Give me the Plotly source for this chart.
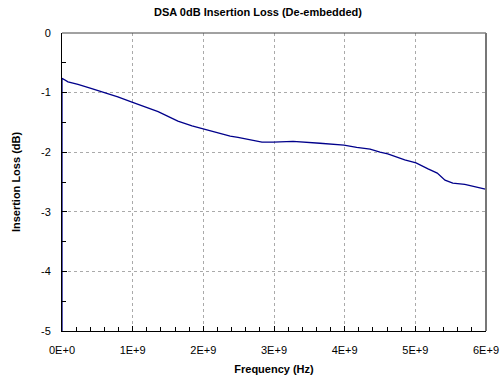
import plotly.graph_objects as go

freq_ghz = [0.0, 0.0, 0.085, 0.226, 0.41, 0.61, 0.79, 0.99, 1.17, 1.36, 1.50, 1.64, 1.84,
            2.00, 2.16, 2.31, 2.38, 2.49, 2.69, 2.83, 2.99, 3.27, 3.65, 3.99, 4.17,
            4.36, 4.50, 4.61, 4.85, 5.01, 5.18, 5.31, 5.42, 5.53, 5.70, 5.84, 5.99]
loss_db = [-5.0, -0.76, -0.82, -0.86, -0.93, -1.00, -1.07, -1.16, -1.24, -1.32, -1.40, -1.48, -1.56,
           -1.61, -1.66, -1.70, -1.73, -1.75, -1.80, -1.83, -1.83, -1.82, -1.85, -1.88, -1.92,
           -1.95, -2.00, -2.03, -2.13, -2.18, -2.28, -2.35, -2.47, -2.52, -2.54, -2.58, -2.62]

x_tickvals = [0, 1e9, 2e9, 3e9, 4e9, 5e9, 6e9]
x_ticktext = ["0E+0", "1E+9", "2E+9", "3E+9", "4E+9", "5E+9", "6E+9"]
y_tickvals = [0, -1, -2, -3, -4, -5]
y_ticktext = ["0", "-1", "-2", "-3", "-4", "-5"]

freq_hz = [f * 1e9 for f in freq_ghz]

FONT = "Arial, Liberation Sans, sans-serif"

fig = go.Figure()
fig.add_trace(go.Scatter(x=freq_hz, y=loss_db, mode="lines",
                         line=dict(color="#00008B", width=1.3),
                         showlegend=False, cliponaxis=True))

fig.update_layout(
    width=501, height=383,
    margin=dict(l=62, r=15, t=33, b=52),
    paper_bgcolor="white", plot_bgcolor="white",
    font=dict(family=FONT, size=11, color="black"),
    title=dict(text="<b>DSA 0dB Insertion Loss (De-embedded)</b>",
               x=0.515, xref="container", xanchor="center",
               y=0.968, yref="container", yanchor="middle",
               font=dict(family=FONT, size=11, color="black")),
)

fig.update_xaxes(
    range=[0, 6e9], tickvals=x_tickvals, ticktext=x_ticktext,
    showgrid=True, gridcolor="#aaaaaa", griddash="dot", gridwidth=1,
    showline=True, linecolor="black", linewidth=1,
    ticks="inside", ticklen=5, tickcolor="black",
    minor=dict(dtick=2e8, ticks="inside", ticklen=4, tickcolor="black", showgrid=False),
    zeroline=False, ticklabelstandoff=9, automargin=False,
    title=dict(text="<b>Frequency (Hz)</b>", font=dict(family=FONT, size=11), standoff=10),
    tickfont=dict(family=FONT, size=11),
)
fig.update_yaxes(
    range=[-5, 0], tickvals=y_tickvals, ticktext=y_ticktext,
    showgrid=True, gridcolor="#aaaaaa", griddash="dot", gridwidth=1,
    showline=True, linecolor="black", linewidth=1,
    ticks="inside", ticklen=5, tickcolor="black",
    minor=dict(dtick=0.5, ticks="inside", ticklen=4, tickcolor="black", showgrid=False),
    zeroline=False, ticklabelstandoff=8, automargin=False,
    title=dict(text="<b>Insertion Loss (dB)</b>", font=dict(family=FONT, size=11), standoff=18),
    tickfont=dict(family=FONT, size=11),
)

fig.add_shape(type="line", xref="paper", yref="paper", x0=0, x1=1, y0=1, y1=1,
              line=dict(color="#444444", width=1))
fig.add_shape(type="line", xref="paper", yref="paper", x0=1, x1=1, y0=0, y1=1,
              line=dict(color="#777777", width=2))

fig.write_html("out.html")
